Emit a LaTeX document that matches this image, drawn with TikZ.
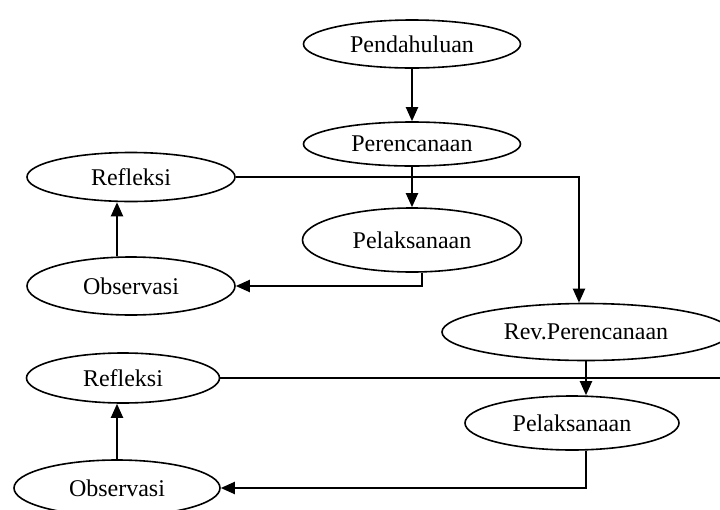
\documentclass[tikz,border=0pt]{standalone}
\usepackage{fontspec}
\setmainfont{Liberation Serif}
\usetikzlibrary{shapes.geometric, arrows.meta}

\begin{document}
\begin{tikzpicture}[x = 0.5pt, y = -0.5pt, font = \fontsize{12}{14}\selectfont,
    box/.style = {shape = ellipse, draw, line width = 0.8pt, inner sep = 0pt},
    arr/.style = {line width = 1pt, -{Triangle[length = 7pt, width = 6pt]}}]
    \useasboundingbox (0,0) rectangle (720,510);
    % first cycle
    \node[box, minimum width = 108.5pt, minimum height = 24pt] (Pend) at (412,44) {Pendahuluan};
    \node[box, minimum width = 108.5pt, minimum height = 22pt] (Ren) at (412,144) {Perencanaan};
    \node[box, minimum width = 109.5pt, minimum height = 32pt] (Lak1) at (412,240) {Pelaksanaan};
    \node[box, minimum width = 104pt, minimum height = 29pt] (Obs1) at (131,286) {Observasi};
    \node[box, minimum width = 104pt, minimum height = 24.5pt] (Ref1) at (131,177) {Refleksi};
    % second cycle
    \node[box, minimum width = 144pt, minimum height = 28.5pt] (Rev) at (586,332) {Rev.Perencanaan};
    \node[box, minimum width = 107pt, minimum height = 27pt] (Lak2) at (572,423) {Pelaksanaan};
    \node[box, minimum width = 103pt, minimum height = 28pt] (Obs2) at (117,488) {Observasi};
    \node[box, minimum width = 96.5pt, minimum height = 25pt] (Ref2) at (123,378) {Refleksi};
    \coordinate (Out) at (720,378);

    \draw[arr] (Pend) -- (Ren);
    \draw[arr] (Ren) -- (Lak1);
    \draw[arr] ([xshift = 5pt]Lak1.south) |- (Obs1.east);
    \draw[arr] ([xshift = -7pt]Obs1.north) -- ([xshift = -7pt]Ref1.south);
    \draw[arr] (Ref1.east) -| ([xshift = -3.5pt]Rev.north);
    \draw[arr] (Rev.south) -- (Rev.south |- Lak2.north);
    \draw[arr] ([xshift = 7pt]Lak2.south) |- (Obs2.east);
    \draw[arr] (Obs2.north) -- (Obs2.north |- Ref2.south);
    \draw[line width = 1pt] (Ref2.east) -- (Out);
\end{tikzpicture}
\end{document}
